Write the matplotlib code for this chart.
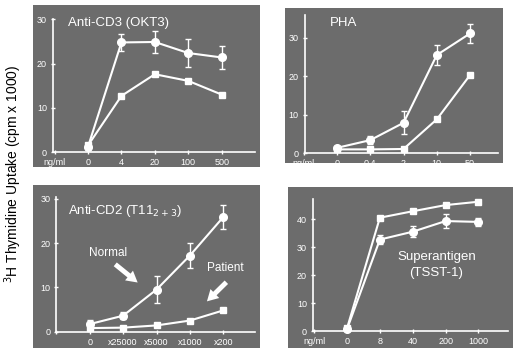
import numpy as np
import matplotlib
matplotlib.use('Agg')
import matplotlib.pyplot as plt

plt.rcParams['font.family'] = ['Liberation Sans', 'DejaVu Sans']

# data (cpm x 1000)
cd3_ticks = ['ng/ml', '0', '4', '20', '100', '500']
cd3_normal = [1.2, 24.8, 24.9, 22.4, 21.4]
cd3_normal_err = [0.8, 2.0, 2.6, 3.2, 2.7]
cd3_patient = [1.5, 12.7, 17.6, 16.1, 13.0]

pha_ticks = ['ng/ml', '0', '0.4', '2', '10', '50']
pha_normal = [1.4, 3.4, 7.9, 25.5, 31.1]
pha_normal_err = [0.6, 1.0, 3.0, 2.6, 2.5]
pha_patient = [1.0, 1.0, 1.1, 8.8, 20.3]

cd2_ticks = ['', '0', 'x25000', 'x5000', 'x1000', 'x200']
cd2_normal = [1.7, 3.6, 9.5, 17.2, 25.9]
cd2_normal_err = [0.9, 0.8, 3.0, 2.8, 2.7]
cd2_patient = [0.8, 0.9, 1.4, 2.5, 4.8]

tsst_ticks = ['ng/ml', '0', '8', '40', '200', '1000']
tsst_normal = [0.7, 32.7, 35.5, 39.3, 39.0]
tsst_normal_err = [0.6, 1.5, 2.0, 2.5, 1.5]
tsst_patient = [1.0, 40.5, 42.8, 45.0, 46.2]


def panel(ax, ticks, normal, nerr, patient, xlim, ylim, yaxis_x, ytop, yticks):
    ax.set_facecolor('#6c6c6c')
    x = np.arange(len(normal))
    ax.errorbar(x, normal, yerr=nerr, color='white', lw=1.5, marker='o', ms=5.5,
                mfc='white', mec='white', capsize=2.5, elinewidth=1, capthick=1, zorder=3)
    ax.plot(x, patient, color='white', lw=1.5, marker='s', ms=5,
            mfc='white', mec='white', zorder=3)
    ax.set_xlim(*xlim)
    ax.set_ylim(*ylim)
    for s in ['top', 'right']:
        ax.spines[s].set_visible(False)
    ax.spines['left'].set_position(('data', yaxis_x))
    ax.spines['bottom'].set_position(('data', 0))
    ax.spines['left'].set_bounds(0, ytop)
    ax.spines['bottom'].set_bounds(yaxis_x, xlim[1] - 0.15)
    for s in ['left', 'bottom']:
        ax.spines[s].set_color('white')
        ax.spines[s].set_linewidth(1.2)
    ax.set_xticks(np.arange(-1, len(normal)))
    ax.set_xticklabels(ticks)
    ax.set_yticks(yticks)
    ax.tick_params(colors='white', labelsize=6.5, length=2.5, width=1,
                   direction='inout', pad=3)


fig = plt.figure(figsize=(5.14, 3.48), dpi=100)

ax1 = fig.add_axes([0.064, 0.52, 0.442, 0.466])
panel(ax1, cd3_ticks, cd3_normal, cd3_normal_err, cd3_patient,
      (-1.65, 5.15), (-3.4, 33.3), -1.05, 30.2, [0, 10, 20, 30])
ax1.text(-0.6, 29.1, 'Anti-CD3 (OKT3)', color='white', fontsize=9.5, va='center')

ax2 = fig.add_axes([0.554, 0.532, 0.424, 0.445])
panel(ax2, pha_ticks, pha_normal, pha_normal_err, pha_patient,
      (-1.57, 4.98), (-2.5, 37.7), -0.97, 36, [0, 10, 20, 30])
ax2.text(-0.22, 33.7, 'PHA', color='white', fontsize=9.5, va='center')

ax3 = fig.add_axes([0.064, 0.0, 0.442, 0.468])
panel(ax3, cd2_ticks, cd2_normal, cd2_normal_err, cd2_patient,
      (-1.7, 5.1), (-3.7, 33.1), -1.0, 30.5, [0, 10, 20, 30])
ax3.text(-0.65, 27.2, 'Anti-CD2 (T11$_{2+3}$)', color='white', fontsize=9.5, va='center')
ax3.text(0.55, 17.7, 'Normal', color='white', fontsize=8.5, ha='center', va='center')
ax3.annotate('', xy=(1.5, 10.7), xytext=(0.7, 15.6),
             arrowprops=dict(arrowstyle='simple,head_width=0.9,head_length=0.8,tail_width=0.35',
                             color='white', lw=0))
ax3.text(4.05, 14.4, 'Patient', color='white', fontsize=8.5, ha='center', va='center')
ax3.annotate('', xy=(3.45, 6.4), xytext=(4.15, 11.6),
             arrowprops=dict(arrowstyle='simple,head_width=0.9,head_length=0.8,tail_width=0.35',
                             color='white', lw=0))

ax4 = fig.add_axes([0.560, 0.0, 0.438, 0.463])
panel(ax4, tsst_ticks, tsst_normal, tsst_normal_err, tsst_patient,
      (-1.8, 5.05), (-6, 51.5), -1.04, 47, [0, 10, 20, 30, 40])
ax4.text(2.72, 26.5, 'Superantigen', color='white', fontsize=9.5, ha='center', va='center')
ax4.text(2.72, 20.6, '(TSST-1)', color='white', fontsize=9.5, ha='center', va='center')

fig.text(0.025, 0.5, '$^3$H Thymidine Uptake (cpm x 1000)', rotation=90,
         ha='center', va='center', fontsize=10, color='black')

fig.savefig('out.png', dpi=100)
